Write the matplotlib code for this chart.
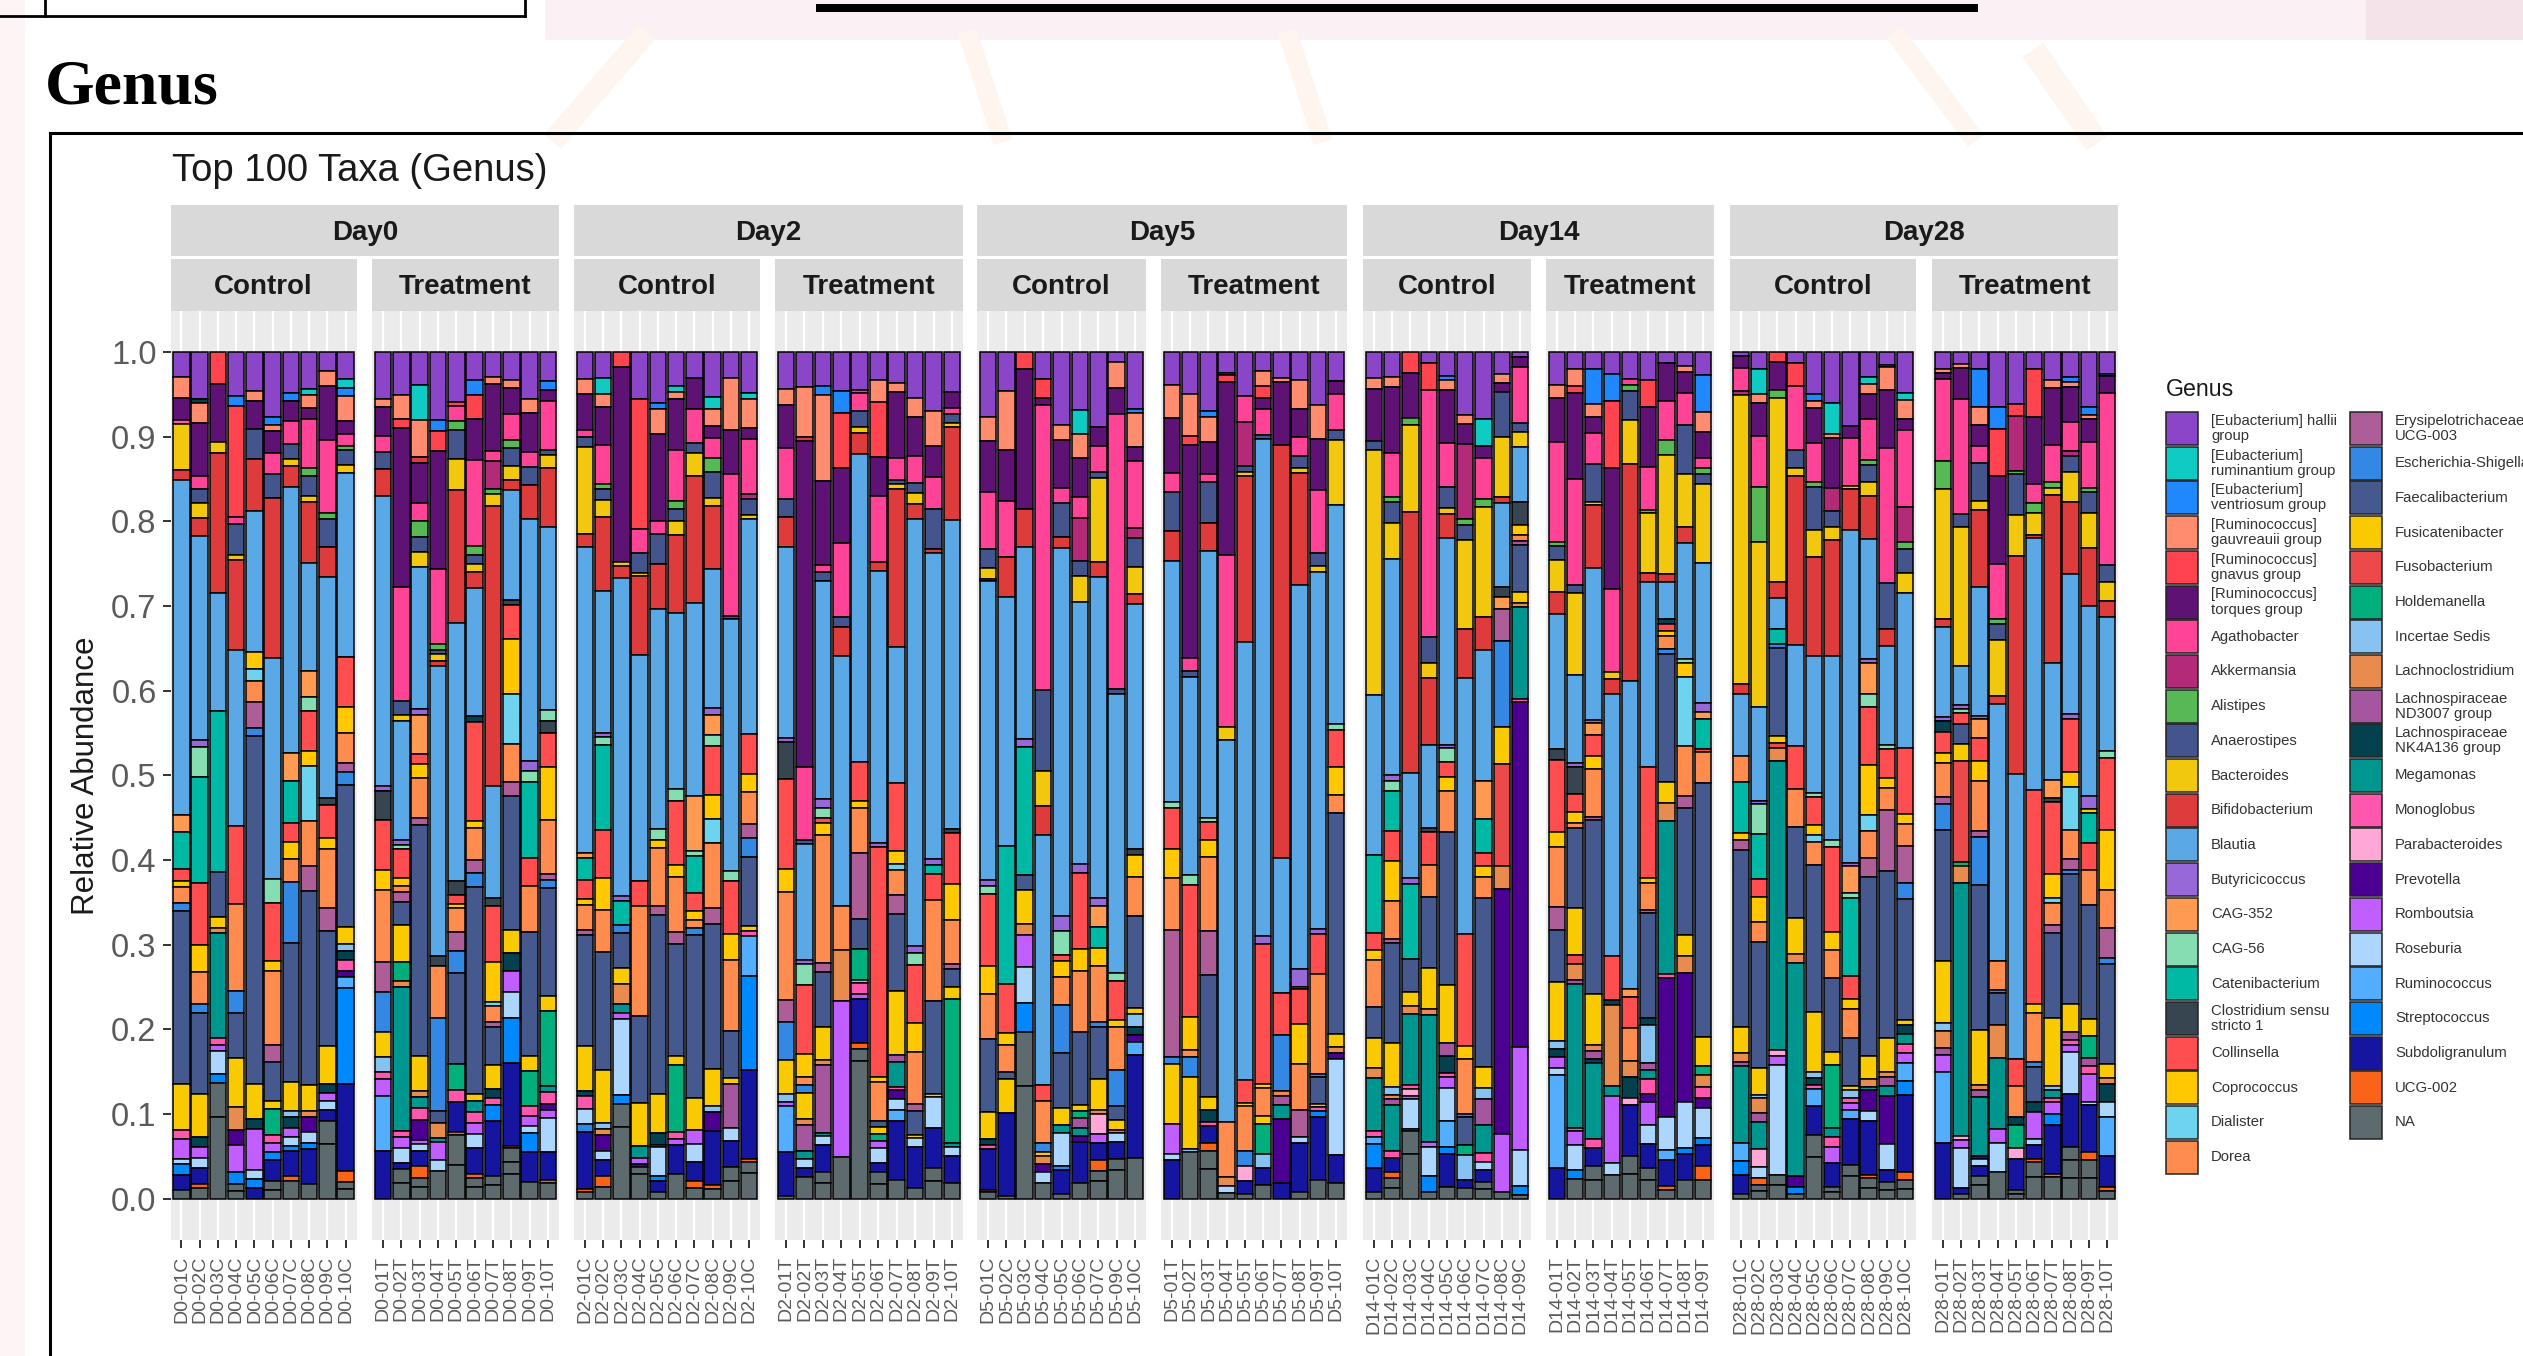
#!/usr/bin/env python
# stacked relative abundance, top 100 taxa at genus level

import matplotlib
matplotlib.use('Agg')
from matplotlib import pyplot as plt
from matplotlib.lines import Line2D
from matplotlib.patches import Rectangle

W, H = 2523, 1356

GENUS = ['[Eubacterium] hallii\ngroup', '[Eubacterium]\nruminantium group', '[Eubacterium]\nventriosum group',
         '[Ruminococcus]\ngauvreauii group', '[Ruminococcus]\ngnavus group', '[Ruminococcus]\ntorques group',
         'Agathobacter', 'Akkermansia', 'Alistipes', 'Anaerostipes', 'Bacteroides', 'Bifidobacterium', 'Blautia',
         'Butyricicoccus', 'CAG-352', 'CAG-56', 'Catenibacterium', 'Clostridium sensu\nstricto 1', 'Collinsella',
         'Coprococcus', 'Dialister', 'Dorea', 'Erysipelotrichaceae\nUCG-003', 'Escherichia-Shigella',
         'Faecalibacterium', 'Fusicatenibacter', 'Fusobacterium', 'Holdemanella', 'Incertae Sedis',
         'Lachnoclostridium', 'Lachnospiraceae\nND3007 group', 'Lachnospiraceae\nNK4A136 group', 'Megamonas',
         'Monoglobus', 'Parabacteroides', 'Prevotella', 'Romboutsia', 'Roseburia', 'Ruminococcus', 'Streptococcus',
         'Subdoligranulum', 'UCG-002', 'NA']
GENUS_COLORS = ['#8A45C9', '#0FCBC4', '#2088FF', '#FF8C6E', '#FF4450', '#5E1274', '#FF4396', '#B22A78', '#57B955',
                '#44558E', '#F2C80F', '#DE3B3C', '#5AA9E6', '#9668D8', '#FF9A52', '#86DDB2', '#00B9A5', '#36454F',
                '#FF4E50', '#FFC800', '#6DD3EE', '#FF8C4F', '#AD5E99', '#3288E3', '#46598F', '#FACA00', '#EC4A4A',
                '#00AF7C', '#87C2F0', '#E88B4F', '#A4579F', '#04414E', '#009690', '#FF57AE', '#FFA8D8', '#4B0091',
                '#C05EFF', '#ADD6FF', '#54AEFF', '#0088FF', '#1515A0', '#F96419', '#5D6B6E']
(EH, ER, EV, RG, RN, RT, AG, AK, AL, AN, BA, BI, BL, BU, C3, C5, CA, CL, CO, CP, DI, DO, EY, ES, FA, FU, FS, HO, IN,
 LC, LN, LK, ME, MO, PA, PR, RO, RS, RU, ST, SU, UC, NA) = range(43)

# each bar reads from the top of the stack down: genus, percent, genus, percent...
D0C = [
    [EH,2.9,RG,2.5,RT,2.6,MO,.5,BA,5.3,BI,1.2,BL,39.3,C3,2,CA,4.3,CO,1.5,CP,.7,DO,1.8,ES,1,FA,20.2,FU,5.5,MO,1,RO,2.3,RS,.7,ST,1.2,SU,1.8,NA,1],
    [EH,5.5,LK,.5,RG,2.3,RT,6.3,AG,1.5,AN,1.7,BA,1.7,BI,2.2,BL,24,BU,.8,C5,3.5,CA,12.5,CO,7.3,CP,3.1,DO,3.8,ES,1.1,FA,9.5,FU,5.1,LK,1.1,RO,1.3,RS,1.2,SU,1.9,UC,.4,NA,1.3],
    [RN,3.7,RT,6.9,BA,1.3,BI,16.4,BL,13.8,CA,18.9,FA,5.3,FU,1.3,LC,.6,ME,12.3,MO,.8,RO,.7,RS,2.7,ST,1,NA,4,NA,9.6],
    [EH,5.2,EV,1.2,RN,13.1,AG,.9,AN,3.7,BA,.5,BI,10.7,BL,20.9,CO,9.2,DO,10.3,ES,2.6,FA,5.4,FU,5.8,LC,2.7,PR,1.7,RO,3.2,ST,1.5,NA,.8,NA,.9],
    [EH,4.6,RG,1.1,RT,3.3,AN,3.5,BI,6.1,BL,16.6,CP,2,DI,1.4,DO,2.5,EY,3,ES,.9,FA,40.8,FU,4.2,LK,1.1,RO,4.8,RS,1.1,ST,1,SU,1.3],
    [EH,7.5,EV,1,RG,.7,RT,2.5,AG,2.5,AN,2.8,BI,18.6,BL,25.7,C5,2.7,CO,6.8,CP,1.1,DO,8.6,EY,2,FA,4.6,FU,.9,HO,3,MO,.9,RO,1.1,ST,.9,SU,2.5,NA,1,NA,1],
    [EH,4.8,EV,.9,RT,2.3,AG,2.7,AN,1.7,BA,.8,BI,2.5,BL,30.8,C3,3.3,CA,4.8,CO,2.2,CP,2,DO,2.7,ES,7,FA,16.2,FU,3.3,IN,.7,LK,1.3,RO,1.1,RS,1,ST,.6,SU,2.9,UC,.6,NA,2],
    [EH,4.2,ER,.7,RG,1.5,RT,1.3,AG,5.6,AL,.9,AN,2.3,BA,.7,BI,7,BL,12.5,C3,2.9,C5,1.7,CO,4.6,CP,1.7,DI,6.3,DO,5.2,EY,2.9,FA,22.3,FU,2.9,LC,.7,PR,1.8,RS,1.2,ST,.7,SU,4,NA,1.7],
    [EH,2.2,RG,1.7,RT,6.3,AG,8.5,AL,.7,AN,3.2,BI,3.5,BL,25.6,CL,.8,CO,3.8,CP,1.3,DO,6.8,EY,2.7,FA,13.3,FU,4.4,LK,1.1,RO,.9,RS,1,SU,1.3,NA,2.7,NA,6.3],
    [EH,3.1,ER,1,EV,.9,RG,2.9,RT,1.5,AG,1.3,AL,.5,AN,1.7,BA,.9,BL,21,CO,5.8,CP,2.9,DO,3.4,EY,1.1,ES,1.5,FA,16.2,FU,1.9,IN,.8,LK,1.1,MO,1.2,PR,.7,RU,1.2,ST,11,SU,10,UC,1.2,NA,.8,NA,1.1],
]
D0T = [
    [EH,5.4,RG,.9,RT,3.4,AG,1.8,AN,2,BI,3.1,BL,33.3,BU,.6,CL,3.3,CO,5.7,CP,2.3,DO,8.3,EY,3.4,ES,4.6,FU,2.9,IN,1.8,MO,.7,RO,2,RU,6.3,SU,5.5],
    [EH,4.8,RG,2.7,RN,1.1,RT,17.8,AG,12.9,AN,1.5,BA,.7,BL,13.4,BU,.5,C5,.5,CO,3.2,CP,.9,DO,.7,EY,1.2,FA,2.5,FU,4.2,HO,2.1,LC,.7,ME,16.2,MO,.7,RO,1.2,RS,1.7,SU,.7,NA,1.6,NA,1.7],
    [EH,3.7,ER,4,RG,4.1,BI,.7,RT,4.5,AG,2,AL,1.8,AN,1.7,BA,1.7,BL,16,BU,.7,C3,4.4,CO,1.1,CP,1.5,DO,4.6,EY,.7,FA,26,FU,4,LC,.7,ME,1.2,MO,1.3,PR,2.3,RO,.5,RS,.7,SU,1.7,UC,1.4,NA,1,NA,1.3],
    [EH,7.8,EV,1.3,RN,2.3,RT,13.6,AG,8.6,AL,.7,AN,.5,BA,.8,BI,.5,BL,33.4,CL,1.1,DO,6,ES,10.7,FA,1.4,LC,1.7,ME,.5,RO,2.1,RS,1.2,NA,3.2],
    [EH,5.7,RN,.4,AG,1.7,AL,1,AN,3.3,BA,3.6,BI,15.1,BL,29.3,CL,1.5,CO,1.1,CP,.4,DO,2.7,EY,2.2,ES,2.5,FA,10.3,HO,3,MO,1.3,SU,3.4,UC,.4,NA,3.4,NA,3.8],
    [EH,3.1,EV,1.7,RN,2.7,RT,4.6,AG,9.5,AL,1.1,AN,1,BA,.9,BI,1.7,BL,14.3,LK,.7,CO,11,CP,.8,DO,3.6,EY,1.5,ES,1.5,FA,23.1,FU,.8,ME,1.2,MO,1.3,RO,1.2,RS,1.5,SU,2.9,UC,.5,NA,1,NA,1.3],
    [EH,2.7,RG,.8,RT,7.3,AG,1.1,AK,3.1,AL,.6,BA,1.3,BI,30.7,BL,12.3,CL,.8,CO,6.2,CP,4.3,DI,.5,DO,1.7,EY,.6,FA,4.2,FU,2.6,LK,1,MO,.7,ST,1.8,SU,6,NA,1,NA,1.5],
    [EH,3.1,RG,.9,RT,2.9,AG,2.9,AL,.9,AN,2,BA,1.5,BI,1.1,BL,12.3,CL,.5,CO,3.8,CP,6.1,DI,5.6,DO,4.3,EY,1.5,FA,14.9,FU,2.6,LK,2,RO,2.3,RS,2.9,ST,5,SU,9.2,UC,.3,NA,1.5,NA,1.4,NA,2.7],
    [EH,5.2,RG,1.6,RT,4.3,AG,1.7,AN,2,BI,3.8,BL,26.9,BU,1.1,C5,1.2,CA,8.4,CO,3.2,DO,5.1,FA,13.7,FU,1.7,HO,3.9,MO,1.1,RO,1.1,RS,.8,ST,2.1,SU,3.4,NA,1.8],
    [EH,3.2,EV,1.1,RT,1.2,AG,5.5,AN,.5,BA,1.5,BI,6.6,BL,20.5,C5,1.2,CL,1.3,CO,3.8,CP,6,DO,6,EY,.7,ES,.9,FA,12,FU,1.7,HO,8.4,ME,.7,MO,1.3,PR,.7,RO,.9,RS,3.8,SU,3.1,UC,.4,NA,1.7],
]
D2C = [
    [EH,3.1,RG,1.7,RT,4.1,AG,.8,AN,1.1,BA,9.9,BI,1.5,BL,34.8,C3,.6,CA,2.5,CO,2.1,CP,.7,DO,2.9,EY,.5,FA,12.6,FU,5.2,LK,.5,MO,1.5,RS,1.7,ES,.9,SU,6.5,UC,.4,NA,.7],
    [EH,2.9,ER,1.7,RG,1.5,RT,4.2,AG,4.3,AL,.5,AN,1.3,BA,1.8,BI,8.2,BL,15.7,BU,.5,C5,.9,CA,9.4,CO,5.3,CP,3.5,DO,4.6,FA,13.1,FU,5.8,IN,.7,LC,.7,PR,1.7,RS,1,SU,1.8,UC,1.2,NA,1.3],
    [RN,1.7,RT,22.4,BA,.5,BI,1.3,BL,36.6,BU,.5,CA,2.8,ES,.9,FA,4,FU,1.9,LC,2.3,ME,1,RO,.7,RS,8.7,ST,1,NA,2.7,NA,8.2],
    [EH,5.3,RN,14.8,AG,2.7,AN,2.3,BA,.3,BI,9,BL,25.7,CO,2.8,DO,12.5,FA,9.9,FU,4.8,ME,1.4,RO,.7,SU,.3,NA,.8,NA,2.8],
    [EH,5.7,EV,.7,RG,2.7,RT,9.7,AG,1.5,AN,3.3,BI,5,BL,24.5,C5,1.3,CP,.9,DO,6.4,EY,1,FA,19.9,FU,4.4,LK,1.3,RO,.3,RS,3.2,ST,.5,SU,1.3,NA,.7],
    [EH,3.7,ER,.7,RG,.8,RT,5.6,AG,5.6,AL,.9,AN,1.3,BA,1.5,BI,8.6,BL,19.4,C5,1.3,CO,7,CP,1.3,DO,6.1,EY,1.3,FA,12.3,FU,1,HO,7.4,MO,.7,RO,.7,SU,3.2,NA,2.7],
    [EH,2.9,RT,3.3,AG,3.8,AN,1.1,BA,2.5,BI,13.9,BL,21.2,C3,6.1,C5,.5,CA,4.1,CO,1.9,CP,1,DO,.9,ES,.8,FA,17.9,FU,3.5,RO,1.5,RS,2,SU,2.1,UC,.7,NA,1.2],
    [EH,4.8,ER,1.3,RG,1.9,RT,1.3,AG,2.1,AL,1.5,AN,2.8,BA,.9,BI,6.8,BL,15,BU,.7,C3,2.2,C5,1.1,CO,5.3,CP,2.6,DI,2.6,DO,7,EY,1.7,FA,15.6,FU,4,IN,.7,PR,2,SU,5.8,UC,.5,NA,1],
    [EH,2.9,RG,5.9,RT,5,AG,16.2,AN,.3,BL,28.6,C5,1.2,CO,6,CP,2.9,DO,8.1,FA,5.3,FU,.7,LN,5,RS,1.5,SU,2.9,NA,1.6,NA,2],
    [EH,4.5,ER,.7,RG,3.2,RT,1.2,AG,6,AK,.6,AN,1.7,BA,.5,BL,23.6,CO,4.4,CP,1.9,DO,3.6,EY,1.5,ES,2.1,FA,7.5,FU,.6,MO,.5,RU,4.4,ST,10.4,SU,9.7,UC,.4,NA,1.2,NA,2.8],
]
D2T = [
    [EH,4.2,RG,1.8,RT,4.8,AG,5.8,AN,2,BI,3.4,BL,21.4,BU,.5,CL,4.2,CO,10.1,CP,2.6,DO,12.1,EY,2.5,ES,4.3,FU,3.8,IN,.9,RO,.5,RU,5.1,SU,5,NA,.3],
    [EH,4,RG,5.6,BI,.5,RT,36.9,AG,8.2,AN,.5,BL,13.1,BU,.5,C5,2.3,CO,7.8,CP,2.6,DO,1,ES,.8,FU,3,LC,.7,LN,2.9,ME,.9,RS,1,SU,1,NA,2.5],
    [EH,3.8,EV,1,RG,9.6,RT,9.5,AG,.7,AN,1,BL,24.4,BU,1.1,C5,1.1,CO,.5,CP,1.4,DO,14.3,EY,1,FA,6.2,FU,3.7,LC,.5,LN,7.6,ME,.4,RS,1,SU,3,NA,1.3,NA,1.7],
    [EH,4.5,EV,2.5,RN,6.2,RT,8.6,AG,8.4,AN,1.2,BI,3.3,BL,28.5,DO,5,LC,5.8,RO,17.8,NA,4.8],
    [EH,4.2,RN,.4,AG,1.9,AN,1.8,BA,.7,BI,2.3,BL,34.2,CO,4.4,CP,.7,DO,5,EY,7.3,FA,3.4,HO,3.4,IN,.4,MO,1.2,RO,.5,SU,4.9,UC,.7,NA,1.3,NA,15.3],
    [EH,3.1,RG,2.5,RN,6.2,RT,4.4,AG,7.4,BI,1,BL,30.5,BU,.5,CO,25.8,CP,.5,DO,4.4,FA,.7,FU,.8,HO,.7,RO,.8,RS,1.7,SU,1,NA,1.4,NA,1.6],
    [EH,3.4,RG,1,RT,7.2,AG,2.5,AN,.4,BA,.5,BI,17.4,BL,14.9,CO,7.5,CP,1.4,DI,.7,DO,2.7,EY,2.1,FA,8.5,FU,7,LN,.8,ME,2.7,MO,.4,PR,1,RS,1.2,RU,1.2,SU,6.5,NA,2],
    [EH,5,RG,2.1,RT,4.3,AG,2.9,AN,1.1,BA,1.2,BI,1.7,BL,46.7,BU,.8,C5,1.3,CO,6.4,CP,3.2,DO,5.6,EY,.8,FA,2.6,FU,.4,RS,.9,SU,4.5,NA,1.2],
    [EH,6.6,RG,3.9,RT,3.4,AG,3.6,AN,4.4,BI,.5,BL,34.1,BU,.6,CA,1,CO,2.9,DO,11.3,FA,10.4,FU,.3,RS,3.4,SU,4.5,NA,1.4,NA,2],
    [EH,4.5,RT,1.8,AG,.6,AN,1,BA,.5,BI,10.4,BL,34.6,CL,.5,CO,5.7,CP,4,DO,4.9,EY,.6,FA,2,FU,1.3,HO,16.2,ME,.4,RS,1,SU,3.1,NA,1.7],
]
D5C = [
    [EH,7.3,RG,2.7,RT,5.7,AG,6.4,AN,2.2,BA,1.2,BI,.3,BL,33.6,BU,.7,C5,.8,CO,8.2,CP,3.1,DO,5.1,FA,8.2,FU,3,LK,.7,MO,.4,SU,4.6,UC,.3,NA,.7],
    [EH,4.4,RG,6.8,RT,5.8,AG,6.4,BI,4.6,BL,28.4,CA,15.7,CO,5.6,CP,1.4,DO,3,FA,.9,FU,3.8,SU,9.5,NA,.3],
    [RN,1.9,RT,16.1,BI,4.3,BL,22,BU,.9,CA,14.6,FA,1.7,FU,3.9,LC,1.3,RO,3.6,RS,4.1,ST,3.3,NA,6.2,NA,12.9],
    [EH,3.1,RN,2.2,RT,.7,AG,32.5,AN,9.3,BA,4,BI,3.3,BL,28.4,CO,1.9,DO,4.8,ES,1,FU,.5,LC,.9,PR,.9,RS,1.2,NA,1.8],
    [EH,8.2,RG,1.7,RT,5.4,AG,1.7,AN,3.8,BI,1.3,BL,41.4,BU,1.7,C5,2.7,CO,.7,CP,1.7,DO,3.2,ES,5.4,FA,6.2,FU,1.9,ME,.9,RS,3.7,ES,.5,SU,2.7,NA,.5],
    [EH,6.5,ER,2.7,RG,2.6,RT,4.4,AG,2.3,AK,4.8,AN,1.7,BA,2.9,BL,29.3,BU,.9,CO,8.5,CP,2.5,DO,6.8,FA,8.1,FU,.7,HO,.8,LN,1.1,ME,.9,PR,.7,SU,4.6,NA,1.7],
    [EH,8.3,RT,2.1,AG,2.9,AN,.6,BA,9.3,BI,1.7,BL,35.5,BU,.9,C3,2.3,CA,2.3,CP,2,DO,6.2,ES,.5,FA,5.8,FU,3.4,LC,.4,PA,2.3,RO,.9,SU,1.9,UC,1.3,NA,1,NA,2],
    [EH,1.1,RG,2.9,RT,2.9,AG,30.8,AN,.6,BL,31.2,C5,.9,CO,4.4,CP,.8,DO,4.8,ES,4,FA,1.6,FU,1.1,MO,.4,RS,1,SU,1.9,NA,1.2,NA,3.2],
    [EH,6.4,EV,.4,RG,3.9,RT,1.5,AG,7.5,AK,1.1,AN,3.3,BA,3,BI,1.1,BL,27.5,CL,.7,CP,2.5,DO,4.3,FA,10.3,FU,.7,IN,1.5,LK,.9,PR,.7,RU,1.5,SU,11.5,NA,4.6],
]
D5T = [
    [EH,3.7,RG,3.8,RT,6.2,AG,2.2,AN,4.4,BI,3.4,BL,27.3,C5,.7,CO,4.6,CP,3.3,DO,5.9,EY,14.4,ES,.7,FU,6.8,RO,3.4,RS,.7,SU,4.4],
    [EH,4.8,RG,4.8,RN,1,RT,24.2,AG,1.5,AN,.7,BL,22.5,C5,1.2,CO,15,CP,3.8,DO,.8,ES,2.2,FU,8.2,IN,.4,NA,5.3],
    [EH,6.6,EV,.7,RG,2.8,RT,3.6,AG,.9,AN,4.6,BI,3.1,BL,30,C5,.5,CO,2,CP,1.9,DO,8.3,EY,5,FA,13.7,FU,1.5,LK,1.3,MO,.5,SU,1.9,UC,.9,NA,2,NA,3.3],
    [EH,2.4,EV,.3,RN,.8,RT,19.9,AG,19.8,BA,1.5,BL,44.1,DO,6.3,LC,1,RS,.8,NA,.7],
    [EH,5,AG,3,AK,5,AN,.7,BA,.5,BI,18.9,BL,50.1,CO,2.6,CP,.3,DO,5.2,ES,1.7,PA,1.7,SU,1.5,NA,.5],
    [EH,2.1,RG,1.7,RN,1.4,RT,1.2,AG,3,AN,.5,BL,56.2,BU,.9,CO,15.8,CP,.5,DO,3.1,FU,1,HO,3.4,IN,1.5,SU,2,NA,1.5],
    [EH,3,RG,.4,RT,7.3,BI,47.4,BL,15.6,CO,4.8,ES,6.4,LC,.6,LN,1,ME,1.7,PR,7.3,SU,1.8],
    [EH,3.2,RG,3.3,RT,3.2,AG,2.1,AN,1.4,BA,.5,BI,12.8,BL,43.6,BU,2,C5,.3,CO,4,CP,4.5,DO,5.2,EY,3.1,RS,.7,SU,5.6,NA,.7],
    [EH,6,RG,3.8,RT,5.8,AG,7.1,AN,1.5,BA,.7,BL,40.3,BU,.6,CO,4.5,DO,11.3,ES,.3,FA,3.1,FU,.4,MO,.4,ST,.7,SU,7.1,NA,2.1],
    [EH,3.3,RT,1.5,AG,4,AN,1.2,BA,7.3,BL,24.8,C5,.7,CO,4.2,CP,3.2,DO,2,FA,25,FU,1.5,LC,.7,PR,.7,RS,10.9,SU,3.1,NA,1.8],
]
D14C = [
    [EH,2.9,RG,1.3,RT,5.8,AN,1,BA,27.5,BL,18,CA,8.8,CO,1.9,CP,1.1,DO,5.3,FA,3.5,FU,3.3,LC,1.1,ME,6,MO,.7,RU,.8,ST,2.7,SU,2.7,NA,.7],
    [EH,2.7,RG,1.1,RT,7.2,AG,4.8,AL,.5,AN,2.3,BA,4,BL,23.5,BU,.7,C5,1.1,CA,4.3,CO,3.3,CP,4.4,DO,4.1,EY,.4,FA,10.9,FU,4.8,IN,.9,LC,.4,LN,.7,ME,5,MO,.8,SU,1.5,UC,.7,NA,1,NA,1.2],
    [RN,2.4,RT,5,AL,.8,BA,9.9,BI,29.4,BL,11.9,BU,.7,CA,8.4,FA,3.8,FU,1.5,LC,.9,ME,8.1,MO,.4,PA,.8,RO,.4,RS,3.3,ES,.3,NA,2.6,NA,5],
    [EH,1.2,RN,3.1,AG,28.1,AN,3,BA,1.7,BI,7.6,BL,9.4,CL,.5,CO,3.8,DO,3.6,FA,8.1,FU,4.6,LC,.7,ME,14.5,RO,.5,RS,3.3,ST,1.9,NA,.7],
    [EH,2.7,EV,.4,RG,1.1,RT,5.9,AG,4.9,AN,2.3,BA,.7,BI,2.7,BL,22.9,BU,.4,C5,1.5,CO,1.7,CP,1.5,DO,4.6,FA,17,FU,6.4,LN,1.5,LK,1.8,MO,.5,RO,1.2,RS,3.7,RU,2.9,ST,.8,SU,3.6,NA,1.3],
    [EH,7,RG,1,RT,2.3,AK,8.4,AL,.6,AN,1.7,BA,9.9,BI,5.5,BL,28.6,CO,12.5,CP,1.5,DO,6.1,ES,.4,FA,3.1,HO,1.1,IN,2.8,SU,.9,NA,1.2],
    [EH,7.3,ER,2.9,RT,1.3,AG,4.5,AL,.9,BA,11.9,BI,3.6,BL,14.3,C3,4.1,CA,3.7,CO,1.4,CP,1.2,DO,2.3,FA,18.4,FU,2.3,IN,1.2,LN,2.8,ME,3,MO,1,RS,.9,SU,1.3,NA,.8,NA,1],
    [EH,2.4,RG,1,RT,1,AN,5,BA,6.6,BI,.7,BL,9.3,CL,1.1,C3,1.3,EY,3.6,ES,9.5,FU,4.1,FS,11.3,LC,2.5,PR,27.2,RO,6.4,NA,.7],
    [EH,.5,RT,1.2,AG,6.1,AN,1,BA,1.7,BL,6,CL,2.5,CP,1.1,DO,.7,LN,.4,FA,5.2,FU,1.2,LC,.5,ME,10.1,MO,.3,PR,38,RO,11.3,RS,4,ST,1,NA,.4],
]
D14T = [
    [EH,3.7,RG,1.4,RT,4.9,AG,11.1,AL,.5,AN,1.5,BA,3.6,BI,2.5,BL,15,CL,1.2,CO,8,CP,1.7,DO,6.7,EY,2.5,FA,5.8,FU,6.6,IN,.8,LK,1,RO,1.2,RS,.7,RU,10.4,SU,3.4],
    [EH,1.9,RG,1.8,RN,.8,RT,9.5,AG,11.7,AN,.9,BA,9,BL,9.7,BU,.4,CL,3,CO,2,CP,1.2,DO,.6,FA,8.8,FU,5.2,FS,1,LC,1.7,LN,.4,ME,15.9,MO,.4,RO,1.5,RS,2.7,ST,1,NA,2.2],
    [EH,1.9,EV,3.8,RG,1.4,RT,1.7,AG,3.4,AN,4.1,BA,.4,BI,6.8,BL,16.6,BU,.4,C3,1.3,CO,2.2,CP,1.5,DO,5.2,EY,.3,FA,19,FU,5.6,LC,.6,LN,.9,LK,.4,ME,8.3,MO,1,SU,1.9,NA,1.6,NA,2],
    [EH,2.5,EV,3,RN,7.6,RT,13.7,AG,9.4,BA,.8,BI,1.7,BL,29.6,CO,5,LK,.5,LC,9.2,ME,1.1,RO,7.6,RS,1.3,NA,2.7],
    [EH,3.1,AG,.6,AL,.7,AN,3.3,BA,4.9,BI,24.6,BL,34.7,C3,.9,CO,3.5,DO,3.8,LC,1.8,LK,2.3,PA,.8,SU,5.8,NA,2,NA,2.8],
    [EH,3.1,RN,2.9,RT,6.6,AG,4.7,AL,.3,BA,6.6,BI,1,BL,20.2,CO,12.1,CP,.6,DO,2.9,EY,.4,FA,11.5,LK,.7,IN,4.2,LN,.7,ME,1,MO,1.7,PR,.8,RO,2.6,RS,2,SU,2.6,NA,1.4,NA,2],
    [EH,1.2,RT,4.2,AG,4.3,AL,1.7,BA,13.1,BI,.8,BL,4.1,LK,.6,CO,.8,CP,.5,DO,1.4,ES,.6,FA,14.1,FU,2.3,LC,2,ME,16.9,MO,.4,PR,15.3,RS,3.6,RU,1.1,SU,2.9,UC,.4,NA,1],
    [EH,1.5,RG,.7,RT,2.2,AG,3.5,AN,5.3,BA,5.8,BI,1.7,BL,12.6,C5,.5,CP,1.5,DI,7.5,DO,5.4,EY,1.3,FA,13.8,FU,2.3,LC,1.8,PR,14,RS,5,ST,.7,SU,2.8,NA,2],
    [EH,2.5,EV,4,RG,2.1,RT,2.8,AG,1.1,AL,.7,AN,1,BA,8.6,BL,15.1,BU,1,C3,.7,CA,3.3,CO,.3,DO,3.3,FA,27.4,FU,3.2,HO,1,LC,1.3,MO,1.1,PR,1.1,RS,3.3,ST,.7,SU,2.3,UC,1.5,NA,2],
]
D28C = [
    [EH,.5,RT,1.3,AG,2.6,AK,.4,BA,32.2,BI,1.1,BL,7,DO,2.9,CA,5.6,CP,.8,EY,1.1,FA,19.8,FU,2.9,LC,1,LN,.4,ME,8.6,RU,2,ST,1.6,SU,2.1,NA,.5],
    [EH,1.9,ER,2.7,RG,1,RT,3.6,AG,5.5,AL,6,BA,18,BL,10.2,BU,.4,C5,3.3,CA,4.9,CO,1.9,CP,2.7,DO,2.2,FA,13.8,FU,2.9,IN,.3,LC,1.7,LN,.9,ME,3,PA,2,RS,1.2,UC,.7,NA,.7,NA,.8],
    [RN,1.1,RT,3.2,AL,.9,BA,20.9,BI,1.9,BL,3.5,CA,1.7,ES,.4,FA,10,FU,.8,FS,.6,LC,1.5,ME,32.8,PA,.7,RO,1,RS,12.5,NA,1.2,NA,1.5],
    [EH,1.3,RN,2.6,AG,7.2,AN,2,BA,.9,BI,19.1,BL,11.5,CO,4.8,DO,4.3,FA,10.4,FU,4,LC,1,ME,24.1,PR,1.3,ST,.8,NA,.5],
    [EH,4.6,EV,.8,RG,.8,RT,3.8,AG,4.3,AL,.5,AN,4.7,BA,3,BI,10.9,BL,15,C5,.5,CO,3.1,CP,1.1,DI,.7,DO,2.5,FA,16.2,FU,6.6,IN,.7,LK,.7,MO,.5,RU,1.8,SU,3.2,NA,2.4,NA,4.6],
    [EH,5.6,ER,3.3,RG,.5,RT,5.4,AK,2.5,AN,1.7,BA,1.4,BI,12.7,BL,20,C5,.8,CO,9.2,CP,2,DO,3,FA,8,FU,1.5,HO,6.8,ME,1,MO,1.1,RO,1.7,SU,2.6,NA,.6,NA,.7],
    [EH,8,RT,1.3,AG,5.2,BA,.4,BI,4.4,BL,36.1,BU,.3,C3,3,C5,.5,CA,8.5,CO,2.5,CP,1,DO,3.2,FA,5.2,FU,.4,IN,.9,MO,.5,RO,.8,RU,1,SU,5,NA,1.2,NA,2.4],
    [EH,2.7,ER,.8,RG,1,RT,2.7,AG,4.5,AL,.5,AN,1.9,BA,1.5,BI,4.6,BL,13,BU,.5,C3,3.3,C5,1.4,CO,6.3,CP,5.4,DI,1.7,DO,3,EY,2,FA,19.4,FU,2.5,LC,.8,ME,.3,PR,2.3,RS,1.1,SU,5.8,UC,.4,NA,1,NA,1.2],
    [EH,1.4,EV,.3,RG,2.5,RT,6.4,AG,14.9,AN,5,BI,1.9,BL,10.9,C5,.5,CO,3.1,CP,1.1,DO,2.5,EY,6.7,FA,18.4,FU,3.8,LC,.5,LN,1,ME,1.1,PR,5.3,RS,2.9,SU,1.3,NA,.8,NA,1],
    [EH,4.4,ER,.8,RG,2,RT,1.2,AG,8.2,AK,3.8,AL,.7,AN,2.6,BA,2.2,BL,16.6,CO,7.1,CP,1,DO,2.4,EY,4,ES,1.7,FA,12.9,FU,.6,LK,.9,ME,1.1,MO,1,RO,1.1,RU,1.9,ST,1.5,SU,8.2,UC,.9,NA,1,NA,1],
]
D28T = [
    [EH,1.9,RG,.4,RT,.7,AG,9,AL,3,BA,14.3,BI,.8,BL,9.9,BU,.4,LK,1.2,CO,2.4,CP,1.1,DO,3.7,EY,.8,ES,2.8,FA,14.4,FU,6.7,IN,.9,LC,1.9,LN,.8,RO,1.8,RU,7.8,SU,6.1],
    [EH,1.3,RG,.5,RT,3.4,AG,12.6,AN,1.5,BA,15.3,BL,4.3,BU,.4,C5,.4,CO,1.2,FA,2.3,FU,1.8,FS,11.1,HO,.5,LC,1.9,ME,27.8,PA,.4,RO,.9,RS,4.4,SU,.7,NA,.5],
    [EH,1.9,EV,4.1,RG,2,RT,2.3,AG,1.8,AN,4.2,BA,.9,BI,8.4,BL,14.1,BU,.4,C3,2,CO,2.5,CP,2.2,DO,5.5,EY,.6,ES,5.3,FA,15.8,FU,6,LC,.5,LN,.8,ME,6.4,PR,.4,RS,.7,SU,1.1,NA,1,NA,1.5],
    [EH,6.2,EV,2.5,RN,5.3,RT,9.9,AG,6.2,AL,.6,AN,1.7,BA,6.4,BI,.9,BL,28.9,DO,3.3,ES,.3,FA,3.6,LC,3.8,ME,8,RO,1.5,RS,3.3,NA,3],
    [EH,5.8,RN,1.4,AK,6.1,AL,.4,AN,4.6,BA,4.6,BI,24.4,BL,32,CO,3,DO,3.5,LK,.8,HO,2.6,PA,1.3,SU,3.4,NA,.5,NA,.5],
    [EH,1.9,RN,5.3,RT,7.4,AG,2.1,AL,1.1,BA,2.4,BI,.4,BL,27.8,CO,23.7,CP,1,DO,5.4,ES,.6,FA,3.8,LK,1.1,RO,3,RS,.7,SU,1.5,UC,.4,NA,1.6,NA,2.4],
    [EH,3,RG,.9,RT,6.1,AG,4.1,AL,.6,BA,.8,BI,18.1,BL,12.7,C3,1.9,CL,.4,CO,7.8,CP,2.6,DI,.5,DO,2.4,EY,.9,FA,9.2,FU,7.3,IN,.5,ME,.8,MO,.5,RO,1.3,ST,1.1,SU,5.3,UC,.4,NA,2.3],
    [EH,2.7,EV,.6,RG,.5,RT,3.8,AG,3.2,AK,.5,AN,1.8,BA,3.2,BI,7.8,BL,15.3,BU,.5,CO,5.8,CP,1.6,DI,4.7,DO,3.2,EY,1.1,ES,.5,FA,14.1,FU,3.1,LN,.9,MO,.5,RO,.7,RS,4.6,SU,5.8,NA,1.4,NA,2,NA,2.2],
    [EH,6,EV,.8,RG,.5,RT,2.5,AG,4.9,AL,.5,AN,2.3,BA,3.8,BI,6.2,BL,20.6,BU,1.5,CP,.4,CA,3.2,CO,3,DO,3.8,FA,12.3,FU,1.9,HO,2.3,LN,.9,MO,.9,RO,3,RS,.4,SU,5.1,UC,.8,NA,2,NA,2.2],
    [EH,2.4,ES,.3,RT,1.9,AG,19,AN,1.9,BA,2.1,BI,1.8,BL,14.9,C5,.7,CO,8,CP,6.7,DO,4.2,EY,3.3,ES,.7,FA,11.1,FU,1.5,LC,.7,LK,2,RS,1.7,RU,4.3,SU,3.4,UC,.5,NA,.8],
]

DAYS = ['Day0', 'Day2', 'Day5', 'Day14', 'Day28']
GROUPS = ['Control', 'Treatment']
DAY_PREFIX = ['D0', 'D2', 'D5', 'D14', 'D28']
PANEL_BARS = [[D0C, D0T], [D2C, D2T], [D5C, D5T], [D14C, D14T], [D28C, D28T]]
# sample numbers on the x axis, Day5 control has no 08 and Day14 stops at 09
NUMS_10 = ['01', '02', '03', '04', '05', '06', '07', '08', '09', '10']
NUMS_D5C = ['01', '02', '03', '04', '05', '06', '07', '09', '10']
NUMS_9 = ['01', '02', '03', '04', '05', '06', '07', '08', '09']
PANEL_NUMS = [[NUMS_10, NUMS_10], [NUMS_10, NUMS_10], [NUMS_D5C, NUMS_10], [NUMS_9, NUMS_9], [NUMS_10, NUMS_10]]
Y_TICKS = [0.0, 0.1, 0.2, 0.3, 0.4, 0.5, 0.6, 0.7, 0.8, 0.9, 1.0]

# layout, in pixels of the output picture
PANEL_X = [[(170.5, 356.5), (372, 559)], [(574, 760), (775, 963)], [(977, 1146), (1161, 1347)],
           [(1363, 1531), (1546, 1714)], [(1730, 1916), (1932, 2118)]]
TOP_PX, BOTTOM_PX, Y1_PX, Y0_PX = 311, 1240, 352, 1198.6

plt.rcParams['font.family'] = ['Liberation Sans', 'DejaVu Sans']
fig = plt.figure(figsize=(W / 100, H / 100), dpi=100, facecolor='white')


def px_rect(l, t, r, b, **kw):
    fig.add_artist(Rectangle((l / W, 1 - b / H), (r - l) / W, (b - t) / H, transform=fig.transFigure, lw=0, **kw))


def px_text(x, y, s, **kw):
    fig.text(x / W, 1 - y / H, s, **kw)


def px_line(x0, y0, x1, y1, **kw):
    fig.add_artist(Line2D([x0 / W, x1 / W], [1 - y0 / H, 1 - y1 / H], transform=fig.transFigure, **kw))


# slide background behind the chart
px_rect(0, 0, 25, H, color='#FDF4F6')
px_rect(545, 0, 2366, 40, color='#FBF0F4')
px_rect(2366, 0, W, 40, color='#F4E3E9')
for x0, y0, x1, y1, lw in [(560, 133, 640, 40, 16), (1000, 133, 970, 40, 14), (1320, 133, 1290, 40, 14),
                           (1970, 133, 1900, 40, 14), (2090, 133, 2040, 60, 18)]:
    px_line(x0, y0, x1, y1, color='#FDF5EE', lw=lw)
# cut off table and rule at the top edge
px_line(0, 16, 525, 16, color='black', lw=2)
px_line(45, 0, 45, 16, color='black', lw=2)
px_line(525, 0, 525, 16, color='black', lw=2)
px_rect(816, 4, 1978, 12, color='black')

px_rect(50, 133, W, H, color='white')
px_line(50, H, 50, 133, color='black', lw=2.2)
px_line(50, 133, W, 133, color='black', lw=2.2)

px_text(45, 104, 'Genus', family=['Liberation Serif'], fontweight='bold', fontsize=46, color='black')
px_text(172, 181, 'Top 100 Taxa (Genus)', fontsize=27.5, color='#1A1A1A')
px_text(86, 776, 'Relative Abundance', fontsize=22.5, rotation=90, ha='center', va='center', color='#1A1A1A')

ylo = -(BOTTOM_PX - Y0_PX) / (Y0_PX - Y1_PX)
yhi = 1 + (Y1_PX - TOP_PX) / (Y0_PX - Y1_PX)

for d, day in enumerate(DAYS):
    left, right = PANEL_X[d][0][0], PANEL_X[d][1][1]
    px_rect(left, 205, right, 256, color='#D9D9D9')
    px_text((left + right) / 2, 233, day, fontweight='bold', fontsize=20, ha='center', va='center', color='#1A1A1A')
    for g, group in enumerate(GROUPS):
        l, r = PANEL_X[d][g]
        px_rect(l, 259, r, TOP_PX, color='#D9D9D9')
        px_text((l + r) / 2, 287, group, fontweight='bold', fontsize=20, ha='center', va='center', color='#1A1A1A')

        ax = fig.add_axes([l / W, 1 - BOTTOM_PX / H, (r - l) / W, (BOTTOM_PX - TOP_PX) / H])
        ax.set_zorder(5)
        ax.set_facecolor('#EBEBEB')
        for s in ax.spines.values():
            s.set_visible(False)
        bars = PANEL_BARS[d][g]
        for i, bar in enumerate(bars):
            names = bar[::2]
            vals = bar[1::2]
            total = sum(vals)
            top = 1.0
            for name, val in zip(names, vals):
                h = val / total
                ax.bar(i, h, bottom=top - h, width=0.9, color=GENUS_COLORS[name], edgecolor='black',
                       linewidth=1.1, zorder=3)
                top -= h
        ax.set_xlim(-0.6, len(bars) - 0.4)
        ax.set_ylim(ylo, yhi)
        ax.grid(axis='x', color='white', lw=1.6, zorder=1)
        ax.set_axisbelow(True)
        ax.set_xticks(range(len(bars)))
        labels = ['%s-%s%s' % (DAY_PREFIX[d], n, group[0]) for n in PANEL_NUMS[d][g]]
        ax.set_xticklabels(labels, rotation=90, fontsize=14, color='#5A5A5A')
        ax.tick_params(axis='x', length=6, width=1.4, color='#333333', pad=5.5)
        if d == 0 and g == 0:
            ax.set_yticks(Y_TICKS)
            ax.set_yticklabels(['%.1f' % v for v in Y_TICKS], fontsize=23.5, color='#5A5A5A')
            ax.tick_params(axis='y', length=6, width=1.4, color='#333333', pad=4)
        else:
            ax.set_yticks([])

# legend, filled by column
px_text(2166, 389, 'Genus', fontsize=16.7, va='center', color='#1A1A1A')
LEGEND_ROWS = 22
for k, name in enumerate(GENUS):
    col = 0 if k < LEGEND_ROWS else 1
    row = k if k < LEGEND_ROWS else k - LEGEND_ROWS
    x_sw = [2166, 2350][col]
    x_tx = [2211, 2395][col]
    y_sw = 412 + 34.7 * row
    fig.add_artist(Rectangle((x_sw / W, 1 - (y_sw + 33) / H), 32 / W, 33 / H, transform=fig.transFigure,
                             facecolor=GENUS_COLORS[k], edgecolor='#222222', lw=1.1))
    px_text(x_tx, y_sw + 16.5, name, fontsize=10.7, va='center', linespacing=1.1, color='#333333')

fig.savefig('out.png', dpi=100)
